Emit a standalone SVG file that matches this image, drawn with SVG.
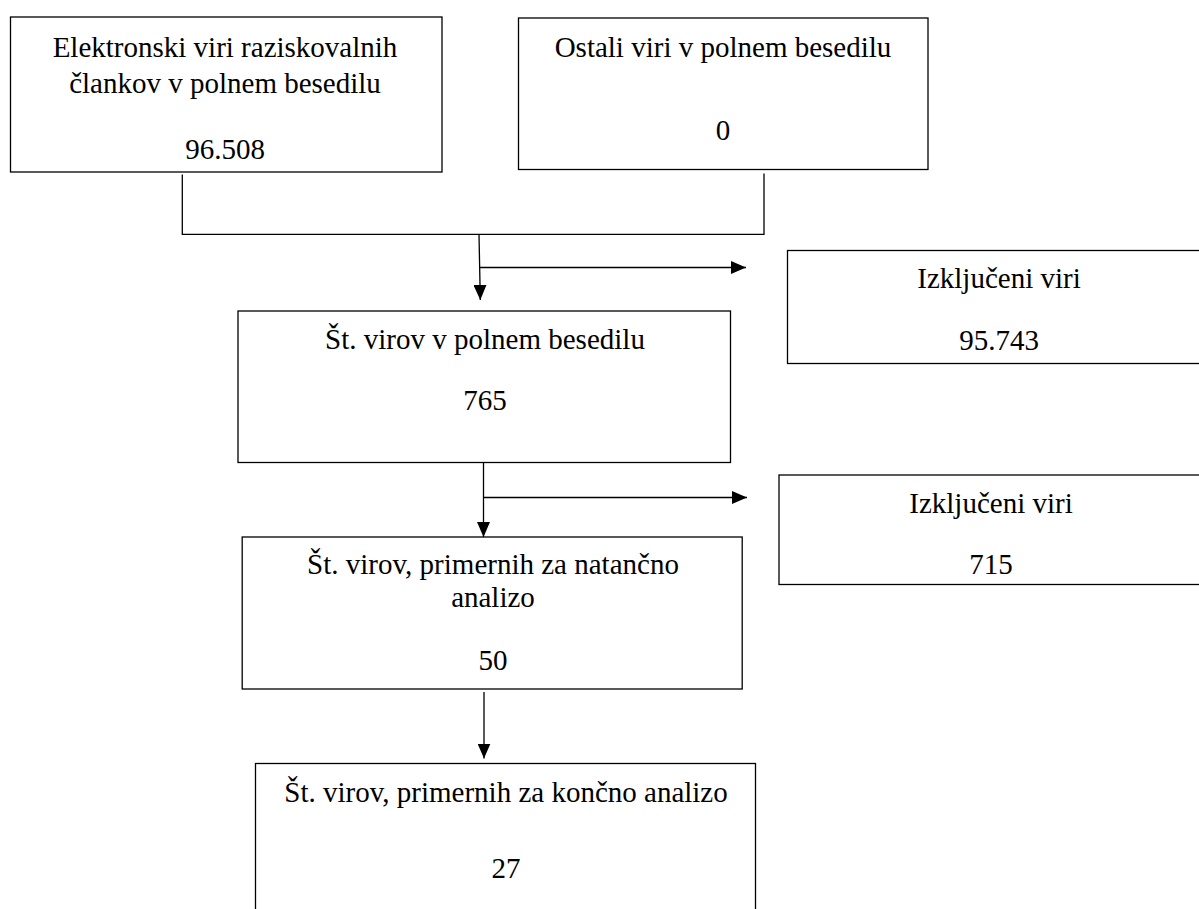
<svg xmlns="http://www.w3.org/2000/svg" width="1199" height="909" viewBox="0 0 1199 909">
<style>
.box{fill:#fff;stroke:#000;stroke-width:1.3}
.t{font-family:"Liberation Serif","Tinos","Times New Roman","DejaVu Serif",serif;font-size:29px;fill:#000;text-anchor:middle}
.c{fill:none;stroke:#000;stroke-width:1.3}
</style>
<defs>
<marker id="ah" markerWidth="15" markerHeight="13" refX="15" refY="6.5" orient="auto" markerUnits="userSpaceOnUse">
<path d="M0,0 L15,6.5 L0,13 z" fill="#000"/>
</marker>
</defs>
<rect width="1199" height="909" fill="#fff"/>
<g id="n1">
<rect class="box" x="10.5" y="17" width="431.5" height="155"/>
<text class="t" x="225" y="57">Elektronski viri raziskovalnih</text>
<text class="t" x="225" y="93">člankov v polnem besedilu</text>
<text class="t" x="225" y="159">96.508</text>
</g>
<g id="n2">
<rect class="box" x="518.5" y="18" width="409.5" height="151.5"/>
<text class="t" x="723" y="57">Ostali viri v polnem besedilu</text>
<text class="t" x="723" y="140">0</text>
</g>
<g id="n3">
<rect class="box" x="787.5" y="250.5" width="430" height="113"/>
<text class="t" x="999" y="287.5">Izključeni viri</text>
<text class="t" x="999" y="350">95.743</text>
</g>
<g id="n4">
<rect class="box" x="238" y="311" width="492.5" height="151.5"/>
<text class="t" x="485" y="349">Št. virov v polnem besedilu</text>
<text class="t" x="485" y="410">765</text>
</g>
<g id="n5">
<rect class="box" x="779" y="475" width="440" height="109.5"/>
<text class="t" x="991" y="513">Izključeni viri</text>
<text class="t" x="991" y="574">715</text>
</g>
<g id="n6">
<rect class="box" x="242.2" y="537" width="500" height="152"/>
<text class="t" x="493" y="574">Št. virov, primernih za natančno</text>
<text class="t" x="493" y="607">analizo</text>
<text class="t" x="493" y="670">50</text>
</g>
<g id="n7">
<rect class="box" x="255.5" y="763.5" width="500" height="200"/>
<text class="t" x="506" y="802">Št. virov, primernih za končno analizo</text>
<text class="t" x="506" y="878">27</text>
</g>
<g id="connectors">
<path class="c" d="M182.3,174.5 V234.3 H764 V173.4"/>
<line class="c" x1="479" y1="234.3" x2="480.3" y2="300" marker-end="url(#ah)"/>
<line class="c" x1="480" y1="267.5" x2="746" y2="267.5" marker-end="url(#ah)"/>
<line class="c" x1="483.5" y1="462.5" x2="483.5" y2="537" marker-end="url(#ah)"/>
<line class="c" x1="483.5" y1="497.5" x2="747" y2="497.5" marker-end="url(#ah)"/>
<line class="c" x1="484" y1="692" x2="484" y2="758.5" marker-end="url(#ah)"/>
</g>
</svg>
